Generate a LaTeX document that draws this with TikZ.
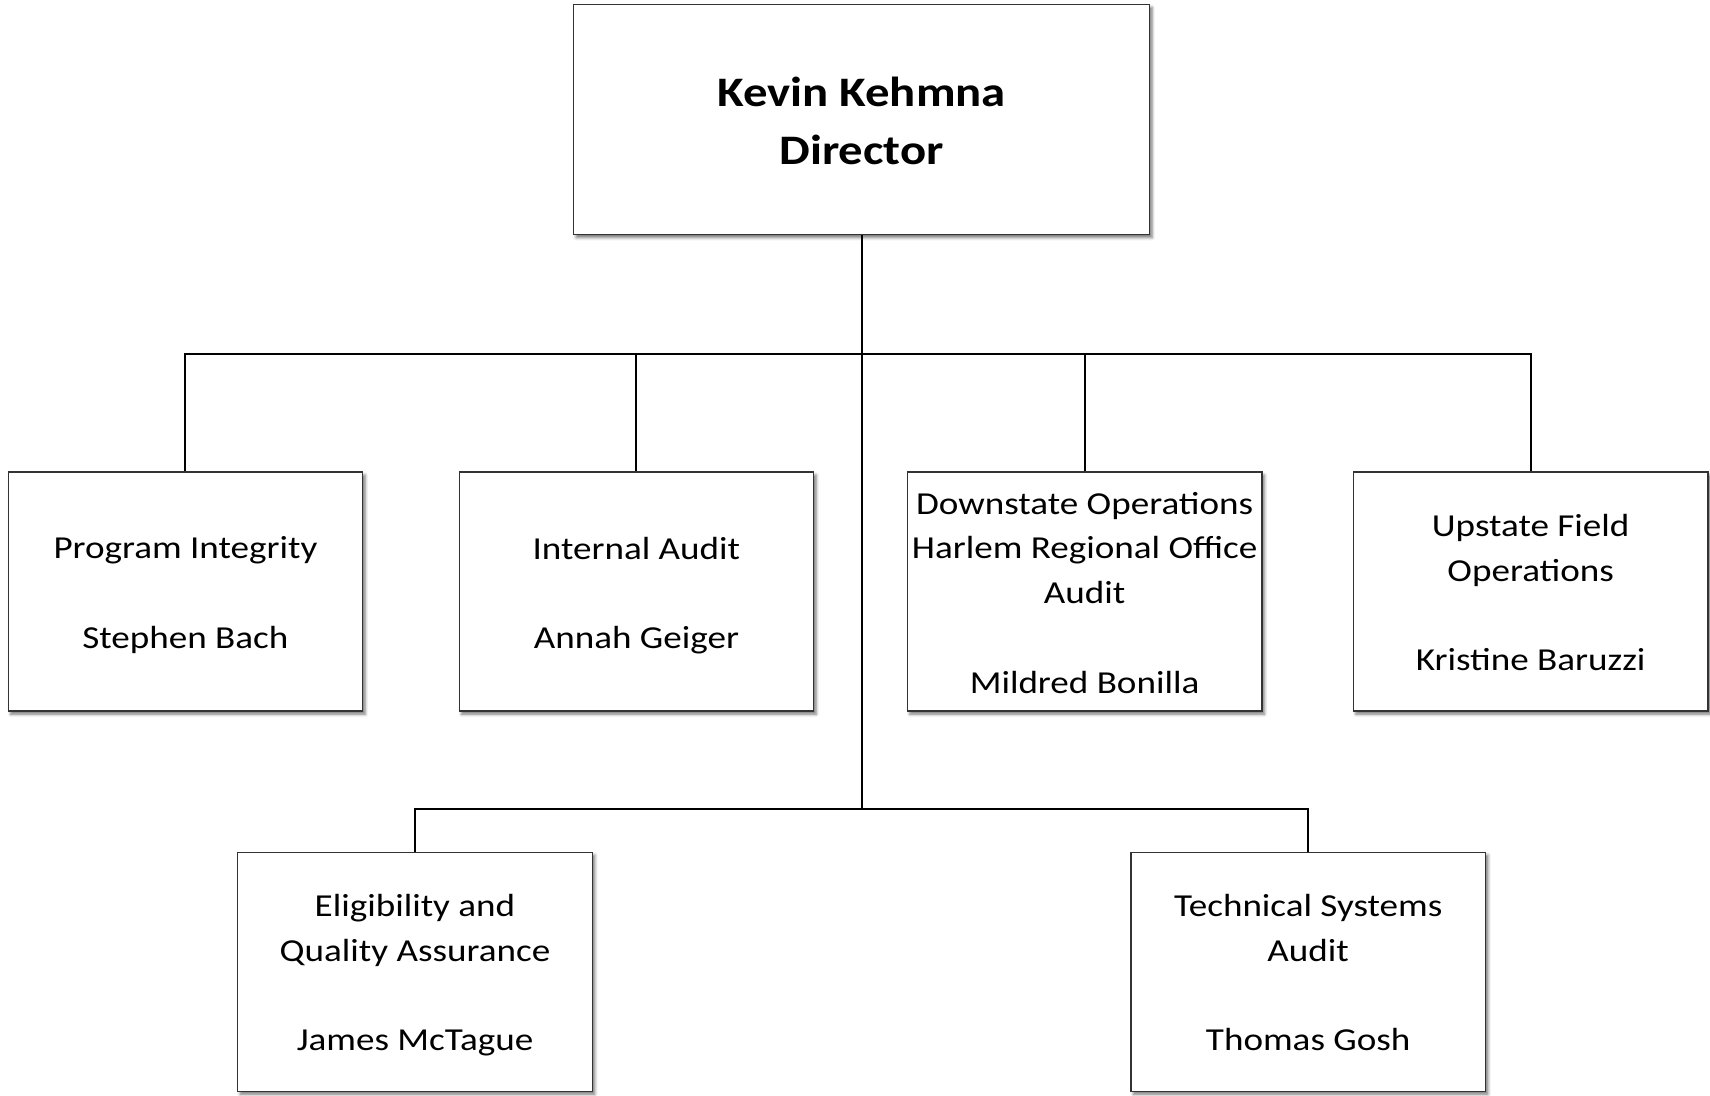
\documentclass[tikz,border=0pt]{standalone}
\usepackage{fontspec}
\setmainfont{Carlito}[FakeStretch=1.16]
\usetikzlibrary{shadows.blur}
\newcommand{\boxtop}{\rule{0pt}{45pt}}
\newcommand{\boxbot}{\rule[-10pt]{0pt}{10pt}}
\newcommand{\toptop}{\rule{0pt}{50pt}}
\newcommand{\topbot}{\rule[-2pt]{0pt}{2pt}}
\begin{document}
\begin{tikzpicture}[x=1pt,y=-1pt,
  boxshape/.style={draw=black!80, line width=1.3pt, fill=white, inner sep=0pt,
    blur shadow={shadow xshift=2.5pt, shadow yshift=-3pt, shadow blur radius=3pt, shadow opacity=55}},
  orgbox/.style={boxshape, minimum width=354.5pt, minimum height=239pt},
  topbox/.style={boxshape, minimum width=575.8pt, minimum height=230.1pt},
  orgtext/.style={inner sep=0pt, align=center, font=\fontsize{32}{44.7}\selectfont,
    execute at begin node=\boxtop, execute at end node=\boxbot, yshift=-6pt},
  toptext/.style={inner sep=0pt, align=center, font=\fontsize{42}{57.8}\selectfont\bfseries,
    execute at begin node=\toptop, execute at end node=\topbot, yshift=-2.2pt},
  link/.style={draw=black, line width=2pt}]
\useasboundingbox (0,0) rectangle (1710,1095);
\node[topbox] (dir) at (861.6,119.5) {};
\node[orgbox] (pi) at (185.4,591.6) {};
\node[orgbox] (ia) at (636.4,591.6) {};
\node[orgbox] (ds) at (1084.6,591.6) {};
\node[orgbox] (up) at (1530.7,591.6) {};
\node[orgbox] (eq) at (415,971.7) {};
\node[orgbox] (ts) at (1308.2,971.7) {};
\node[toptext] (dir-t) at (dir.center) {Kevin Kehmna\\Director};
\node[orgtext] (pi-t) at (pi.center) {Program Integrity\\[44.7pt]Stephen Bach};
\node[orgtext] (ia-t) at (ia.center) {Internal Audit\\[44.7pt]Annah Geiger};
\node[orgtext] (ds-t) at (ds.center) {Downstate Operations\\Harlem Regional Office\\Audit\\[44.7pt]Mildred Bonilla};
\node[orgtext] (up-t) at (up.center) {Upstate Field\\Operations\\[44.7pt]Kristine Baruzzi};
\node[orgtext] (eq-t) at (eq.center) {Eligibility and\\Quality Assurance\\[44.7pt]James McTague};
\node[orgtext] (ts-t) at (ts.center) {Technical Systems\\Audit\\[44.7pt]Thomas Gosh};
\coordinate (bus) at (861.6,354.4);
\coordinate (bus2) at (861.6,809.2);
\draw[link] (dir.south) -- (bus2);
\draw[link] (pi.north) |- (bus);
\draw[link] (ia.north) |- (bus);
\draw[link] (ds.north) |- (bus);
\draw[link] (up.north) |- (bus);
\draw[link] (eq.north) |- (bus2);
\draw[link] (ts.north) |- (bus2);
\end{tikzpicture}
\end{document}
